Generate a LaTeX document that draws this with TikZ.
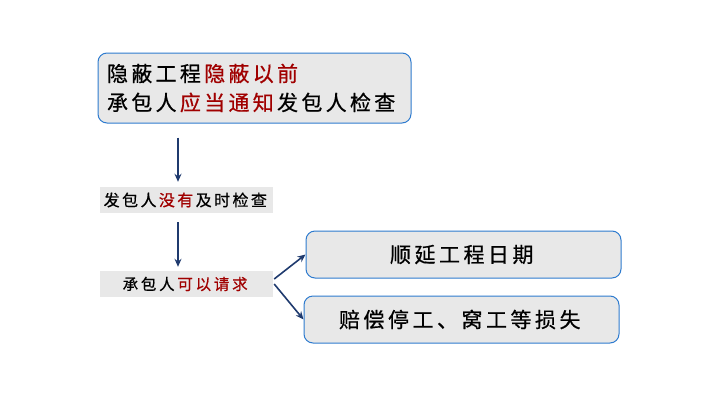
\documentclass[tikz,border=0pt]{standalone}
\usepackage{fontspec}
\usepackage{tikz}
\usetikzlibrary{arrows.meta}

\newfontfamily\cjk[FakeBold=0.6]{Noto Sans CJK SC}

\definecolor{navy}{HTML}{1F3A6E}
\definecolor{keyred}{HTML}{A00000}
\definecolor{edgeblue}{HTML}{2E7BCF}
\definecolor{boxgray}{HTML}{E8E8E8}

% spaced characters
\newlength\chsp
\def\spc#1{\spcx#1\relax}
\def\spcx#1{\ifx\relax#1\else#1\kern\chsp\expandafter\spcx\fi}
\newcommand{\hl}[1]{\textcolor{keyred}{\spc{#1}}}

\begin{document}
\begin{tikzpicture}
[x=1pt,y=-1pt,
 rbox/.style={draw=edgeblue,line width=1pt,fill=boxgray,rounded corners=9pt,inner sep=0pt},
 gbox/.style={fill=boxgray,inner sep=0pt,minimum width=173pt,minimum height=26pt},
 arr/.style={draw=navy,line width=1.6pt,-{Stealth[length=8pt,width=7pt]}}]
\useasboundingbox (0,0) rectangle (720,405);

\node[rbox,minimum width=313pt,minimum height=70pt,text width=295pt,align=left,
  font=\cjk\fontsize{21}{29}\selectfont\setlength\chsp{3.3pt}] (v1) at (254.5,88)
  {\spc{隐蔽工程}\hl{隐蔽以前}\\\spc{承包人}\hl{应当通知}\spc{发包人检查}};

\node[gbox,font=\cjk\fontsize{16}{18}\selectfont\setlength\chsp{2.4pt}] (v2) at (186.5,200)
  {\spc{发包人}\hl{没有}\spc{及时检查}};
\node[gbox,font=\cjk\fontsize{15.5}{18}\selectfont\setlength\chsp{2.75pt}] (v3) at (186.5,284)
  {\spc{承包人}\hl{可以请求}};

\node[rbox,minimum width=315pt,minimum height=47pt,
  font=\cjk\fontsize{21}{25}\selectfont\setlength\chsp{3.5pt}] (v4) at (463.5,254.5) {\spc{顺延工程日期}};
\node[rbox,minimum width=315pt,minimum height=47pt,
  font=\cjk\fontsize{21}{25}\selectfont\setlength\chsp{3.5pt}] (v5) at (461.5,319.5) {\spc{赔偿停工、窝工等损失}};

\draw[arr,shorten <=14pt,shorten >=5pt] ([xshift=-8.5pt]v2.north |- v1.south) -- ([xshift=-8.5pt]v2.north);
\draw[arr,shorten <=9pt,shorten >=4pt] ([xshift=-8.5pt]v2.south) -- ([xshift=-8.5pt]v3.north);
\foreach \from/\to/\dy in {v3/v4/5,v3/v5/0}
\draw[arr] ([xshift=1pt,yshift=\dy pt]\from.east) -- (\to.west);
\end{tikzpicture}
\end{document}
